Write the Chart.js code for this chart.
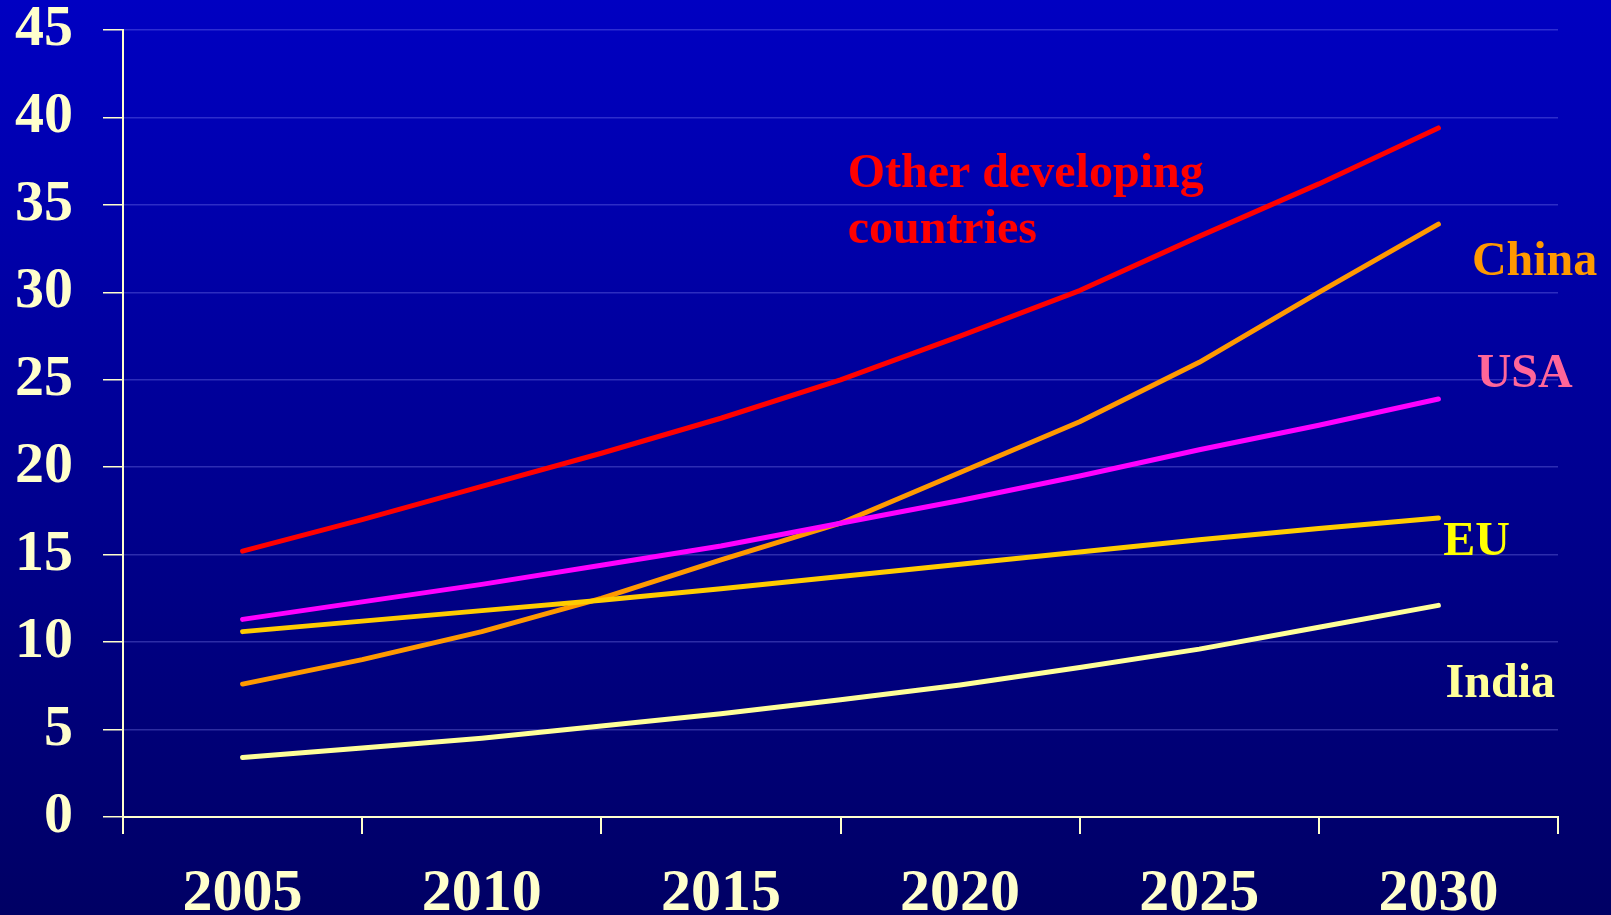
<!DOCTYPE html>
<html>
<head>
<meta charset="utf-8">
<script src="https://cdn.jsdelivr.net/npm/chart.js@4/dist/chart.umd.min.js"></script>
<style>
  html, body { margin: 0; padding: 0; background: #000080; }
  canvas { display: block; }
</style>
</head>
<body>
<canvas id="chartEmissions" width="1611" height="915"></canvas>
<script>
/*-------------------
    DATA
--------------------*/
const yearLabels = ['2005', '2010', '2015', '2020', '2025', '2030'];
const years = [2005, 2007.5, 2010, 2012.5, 2015, 2017.5, 2020, 2022.5, 2025, 2027.5, 2030];

const otherDeveloping = [15.2, 17.0, 18.9, 20.8, 22.8, 25.0, 27.5, 30.1, 33.2, 36.2, 39.4];
const china = [7.6, 9.0, 10.6, 12.5, 14.7, 16.8, 19.7, 22.6, 26.0, 30.0, 33.9];
const usa = [11.3, 12.3, 13.3, 14.4, 15.5, 16.8, 18.1, 19.5, 21.0, 22.4, 23.9];
const eu = [10.6, 11.2, 11.8, 12.4, 13.05, 13.75, 14.45, 15.15, 15.85, 16.5, 17.1];
const india = [3.4, 3.95, 4.5, 5.2, 5.9, 6.7, 7.55, 8.55, 9.6, 10.85, 12.1];

const yTicks = [0, 5, 10, 15, 20, 25, 30, 35, 40, 45];

/*-------------------
    STYLE
--------------------*/
const SERIF = "'Liberation Serif', 'Times New Roman', Times, serif";
const CREAM = '#ffffcc';

const toPoints = (vals) => vals.map((v, i) => ({x: years[i], y: v}));

const lineSet = (label, vals, color) => ({
    label: label,
    data: toPoints(vals),
    xAxisID: 'xv',
    borderColor: color,
    borderWidth: 5,
    borderCapStyle: 'round',
    borderJoinStyle: 'round',
    pointRadius: 0,
    tension: 0,
    fill: false
});

// series names written beside the lines (x in years, y in chart units)
const seriesNames = [
    {lines: ['Other developing', 'countries'], x: 2017.65, y: 36.0, color: '#ff0000'},
    {lines: ['China'], x: 2030.7, y: 31.0, color: '#ff9900'},
    {lines: ['USA'], x: 2030.8, y: 24.6, color: '#ff6699'},
    {lines: ['EU'], x: 2030.1, y: 15.0, color: '#ffff00'},
    {lines: ['India'], x: 2030.15, y: 6.86, color: '#ffff99'}
];

const backdrop = {
    id: 'backdrop',
    beforeDraw(chart) {
        const {ctx, width, height} = chart;
        const g = ctx.createLinearGradient(0, 0, 0, height);
        g.addColorStop(0, '#0000c2');
        g.addColorStop(1, '#000064');
        ctx.save();
        ctx.fillStyle = g;
        ctx.fillRect(0, 0, width, height);
        ctx.restore();
    }
};

const nameLabels = {
    id: 'nameLabels',
    afterDatasetsDraw(chart) {
        const {ctx} = chart;
        const xs = chart.scales.xv;
        const ys = chart.scales.y;
        ctx.save();
        ctx.font = 'bold 48px ' + SERIF;
        ctx.textAlign = 'left';
        ctx.textBaseline = 'alphabetic';
        seriesNames.forEach(n => {
            ctx.fillStyle = n.color;
            const px = xs.getPixelForValue(n.x);
            const py = ys.getPixelForValue(n.y);
            n.lines.forEach((t, k) => ctx.fillText(t, px, py + k * 56));
        });
        ctx.restore();
    }
};

/*-------------------
    CHART
--------------------*/
const canvas = document.getElementById('chartEmissions');

if (canvas) {
    new Chart(canvas, {
        type: 'line',
        data: {
            labels: yearLabels,
            datasets: [
                lineSet('Other developing countries', otherDeveloping, '#ff0000'),
                lineSet('USA', usa, '#ff00ff'),
                lineSet('EU', eu, '#ffcc00'),
                lineSet('China', china, '#ff9900'),
                lineSet('India', india, '#ffff99')
            ]
        },
        options: {
            responsive: false,
            animation: false,
            layout: {padding: {top: 30, right: 53, left: 0, bottom: 0}},
            plugins: {
                legend: {display: false},
                tooltip: {enabled: false}
            },
            scales: {
                x: {
                    type: 'category',
                    offset: true,
                    afterFit: s => { s.height = 98; s.paddingLeft = 0; s.paddingRight = 0; },
                    grid: {
                        offset: true,
                        drawOnChartArea: false,
                        tickLength: 17,
                        tickColor: CREAM,
                        lineWidth: 2
                    },
                    border: {color: CREAM, width: 2},
                    ticks: {
                        color: CREAM,
                        padding: 30,
                        maxRotation: 0,
                        font: {family: SERIF, size: 60, weight: 'bold', lineHeight: 1}
                    }
                },
                xv: {
                    type: 'linear',
                    display: false,
                    position: 'bottom',
                    min: 2002.5,
                    max: 2032.5
                },
                y: {
                    min: 0,
                    max: 45,
                    afterFit: s => { s.width = 123; s.paddingTop = 0; s.paddingBottom = 0; },
                    afterBuildTicks: s => { s.ticks = yTicks.map(v => ({value: v})); },
                    grid: {
                        color: 'rgba(150, 150, 255, 0.3)',
                        lineWidth: 1.5,
                        tickColor: CREAM,
                        tickLength: 20
                    },
                    border: {color: CREAM, width: 2},
                    ticks: {
                        color: CREAM,
                        padding: 30,
                        font: {family: SERIF, size: 58, weight: 'bold', lineHeight: 1}
                    }
                }
            }
        },
        plugins: [backdrop, nameLabels]
    });
}
</script>
</body>
</html>
